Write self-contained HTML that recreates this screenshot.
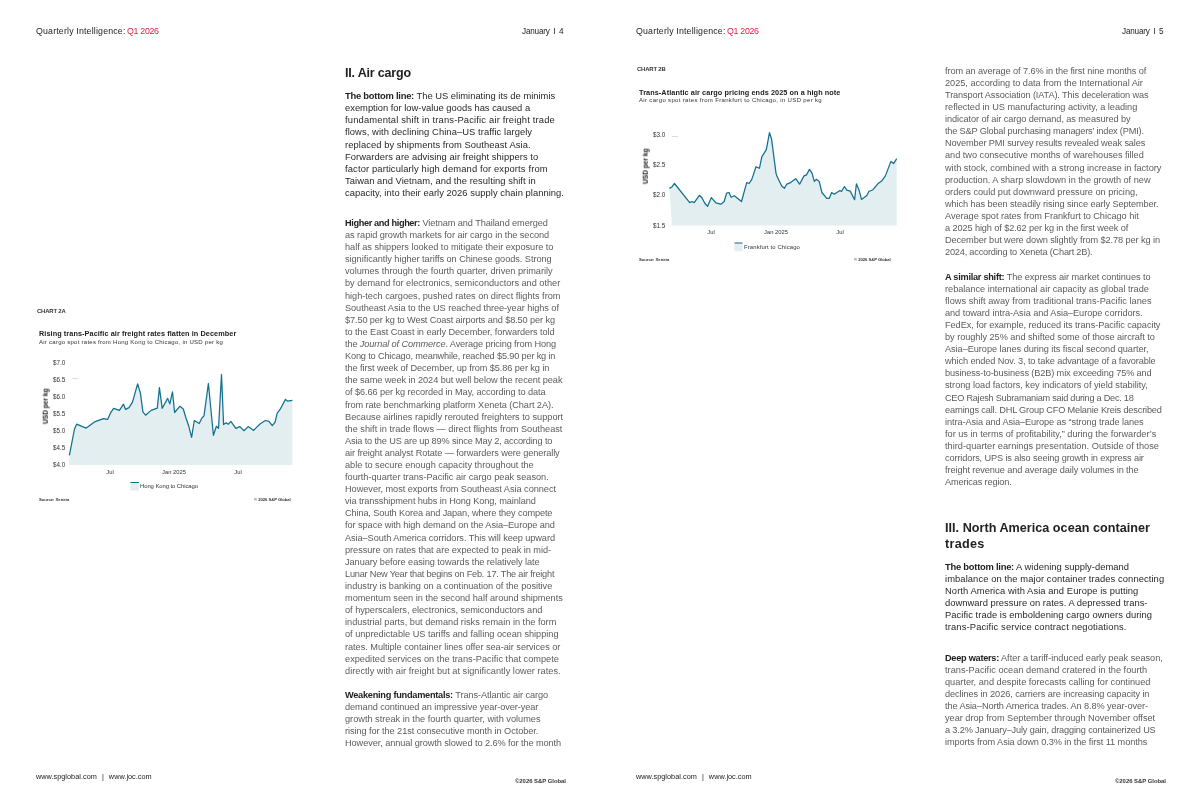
<!DOCTYPE html>
<html><head><meta charset="utf-8"><title>Quarterly Intelligence Q1 2026</title>
<style>
html,body{margin:0;padding:0;background:#fff;}
body{width:1200px;height:797px;position:relative;overflow:hidden;font-family:"Liberation Sans",sans-serif;}
.l{position:absolute;white-space:nowrap;line-height:1;will-change:transform;}
.l b{font-weight:700;}
.ch{position:absolute;left:0;top:0;}
</style></head><body>
<div class="l" style="top:27.00px;font-size:8.8px;color:#222;letter-spacing:0.171px;left:36.40px;">Quarterly Intelligence:</div>
<div class="l" style="top:27.00px;font-size:8.8px;color:#e31940;letter-spacing:-0.292px;left:127.30px;">Q1 2026</div>
<div class="l" style="top:28.01px;font-size:8.2px;color:#222;letter-spacing:-0.206px;left:522.00px;">January</div>
<div style="position:absolute;left:554.1px;top:28.1px;width:0.75px;height:6.2px;background:#555"></div><div class="l" style="top:28.01px;font-size:8.2px;color:#222;left:558.90px;">4</div>
<div class="l" style="top:773.01px;font-size:7.3px;color:#1a1a1a;letter-spacing:0.024px;left:36.20px;">www.spglobal.com <span style="margin:0 3px">|</span> www.joc.com</div>
<div class="l" style="top:779.01px;font-size:5.9px;color:#333;font-weight:700;letter-spacing:-0.004px;left:515.00px;">©2026 S&amp;P Global</div>
<div class="l" style="top:27.00px;font-size:8.8px;color:#222;letter-spacing:0.171px;left:636.40px;">Quarterly Intelligence:</div>
<div class="l" style="top:27.00px;font-size:8.8px;color:#e31940;letter-spacing:-0.292px;left:727.30px;">Q1 2026</div>
<div class="l" style="top:28.01px;font-size:8.2px;color:#222;letter-spacing:-0.206px;left:1122.00px;">January</div>
<div style="position:absolute;left:1154.1px;top:28.1px;width:0.75px;height:6.2px;background:#555"></div><div class="l" style="top:28.01px;font-size:8.2px;color:#222;left:1158.90px;">5</div>
<div class="l" style="top:773.01px;font-size:7.3px;color:#1a1a1a;letter-spacing:0.024px;left:636.20px;">www.spglobal.com <span style="margin:0 3px">|</span> www.joc.com</div>
<div class="l" style="top:779.01px;font-size:5.9px;color:#333;font-weight:700;letter-spacing:-0.004px;left:1115.00px;">©2026 S&amp;P Global</div>
<div class="l" style="top:67.00px;font-size:12.5px;color:#222;font-weight:700;letter-spacing:-0.186px;left:344.50px;">II. Air cargo</div>
<div class="l" style="top:91.01px;font-size:9.4px;color:#282828;letter-spacing:0.005px;left:344.60px;"><b style="color:#222;letter-spacing:-0.245px">The bottom line:</b> The US eliminating its de minimis</div>
<div class="l" style="top:103.01px;font-size:9.4px;color:#282828;letter-spacing:-0.010px;left:344.60px;">exemption for low-value goods has caused a</div>
<div class="l" style="top:115.01px;font-size:9.4px;color:#282828;letter-spacing:0.169px;left:344.60px;">fundamental shift in trans-Pacific air freight trade</div>
<div class="l" style="top:127.01px;font-size:9.4px;color:#282828;letter-spacing:0.073px;left:344.60px;">flows, with declining China–US traffic largely</div>
<div class="l" style="top:140.01px;font-size:9.4px;color:#282828;letter-spacing:0.064px;left:344.60px;">replaced by shipments from Southeast Asia.</div>
<div class="l" style="top:152.01px;font-size:9.4px;color:#282828;letter-spacing:0.055px;left:344.60px;">Forwarders are advising air freight shippers to</div>
<div class="l" style="top:164.01px;font-size:9.4px;color:#282828;letter-spacing:0.130px;left:344.60px;">factor particularly high demand for exports from</div>
<div class="l" style="top:176.01px;font-size:9.4px;color:#282828;letter-spacing:0.048px;left:344.60px;">Taiwan and Vietnam, and the resulting shift in</div>
<div class="l" style="top:188.00px;font-size:9.4px;color:#282828;letter-spacing:0.044px;left:344.60px;">capacity, into their early 2026 supply chain planning.</div>
<div class="l" style="top:219.01px;font-size:9.2px;color:#5c5c5c;letter-spacing:-0.094px;left:344.60px;"><b style="color:#222;letter-spacing:-0.37px">Higher and higher:</b> Vietnam and Thailand emerged</div>
<div class="l" style="top:231.01px;font-size:9.2px;color:#5c5c5c;letter-spacing:-0.053px;left:344.60px;">as rapid growth markets for air cargo in the second</div>
<div class="l" style="top:243.00px;font-size:9.2px;color:#5c5c5c;letter-spacing:-0.028px;left:344.60px;">half as shippers looked to mitigate their exposure to</div>
<div class="l" style="top:255.01px;font-size:9.2px;color:#5c5c5c;letter-spacing:-0.050px;left:344.60px;">significantly higher tariffs on Chinese goods. Strong</div>
<div class="l" style="top:267.00px;font-size:9.2px;color:#5c5c5c;letter-spacing:-0.003px;left:344.60px;">volumes through the fourth quarter, driven primarily</div>
<div class="l" style="top:279.01px;font-size:9.2px;color:#5c5c5c;letter-spacing:-0.016px;left:344.60px;">by demand for electronics, semiconductors and other</div>
<div class="l" style="top:292.01px;font-size:9.2px;color:#5c5c5c;letter-spacing:-0.021px;left:344.60px;">high-tech cargoes, pushed rates on direct flights from</div>
<div class="l" style="top:304.00px;font-size:9.2px;color:#5c5c5c;letter-spacing:-0.061px;left:344.60px;">Southeast Asia to the US reached three-year highs of</div>
<div class="l" style="top:316.01px;font-size:9.2px;color:#5c5c5c;letter-spacing:-0.115px;left:344.60px;">$7.50 per kg to West Coast airports and $8.50 per kg</div>
<div class="l" style="top:328.00px;font-size:9.2px;color:#5c5c5c;letter-spacing:-0.064px;left:344.60px;">to the East Coast in early December, forwarders told</div>
<div class="l" style="top:340.01px;font-size:9.2px;color:#5c5c5c;letter-spacing:-0.119px;left:344.60px;">the <i>Journal of Commerce</i>. Average pricing from Hong</div>
<div class="l" style="top:352.01px;font-size:9.2px;color:#5c5c5c;letter-spacing:-0.163px;left:344.60px;">Kong to Chicago, meanwhile, reached $5.90 per kg in</div>
<div class="l" style="top:364.00px;font-size:9.2px;color:#5c5c5c;letter-spacing:-0.078px;left:344.60px;">the first week of December, up from $5.86 per kg in</div>
<div class="l" style="top:376.01px;font-size:9.2px;color:#5c5c5c;letter-spacing:-0.062px;left:344.60px;">the same week in 2024 but well below the recent peak</div>
<div class="l" style="top:388.00px;font-size:9.2px;color:#5c5c5c;letter-spacing:-0.083px;left:344.60px;">of $6.66 per kg recorded in May, according to data</div>
<div class="l" style="top:401.01px;font-size:9.2px;color:#5c5c5c;letter-spacing:-0.070px;left:344.60px;">from rate benchmarking platform Xeneta (Chart 2A).</div>
<div class="l" style="top:413.01px;font-size:9.2px;color:#5c5c5c;letter-spacing:0.001px;left:344.60px;">Because airlines rapidly rerouted freighters to support</div>
<div class="l" style="top:425.00px;font-size:9.2px;color:#5c5c5c;letter-spacing:0.007px;left:344.60px;">the shift in trade flows — direct flights from Southeast</div>
<div class="l" style="top:437.01px;font-size:9.2px;color:#5c5c5c;letter-spacing:-0.151px;left:344.60px;">Asia to the US are up 89% since May 2, according to</div>
<div class="l" style="top:449.00px;font-size:9.2px;color:#5c5c5c;letter-spacing:-0.092px;left:344.60px;">air freight analyst Rotate — forwarders were generally</div>
<div class="l" style="top:461.01px;font-size:9.2px;color:#5c5c5c;letter-spacing:-0.007px;left:344.60px;">able to secure enough capacity throughout the</div>
<div class="l" style="top:473.01px;font-size:9.2px;color:#5c5c5c;letter-spacing:-0.011px;left:344.60px;">fourth-quarter trans-Pacific air cargo peak season.</div>
<div class="l" style="top:485.00px;font-size:9.2px;color:#5c5c5c;letter-spacing:-0.040px;left:344.60px;">However, most exports from Southeast Asia connect</div>
<div class="l" style="top:497.01px;font-size:9.2px;color:#5c5c5c;letter-spacing:-0.098px;left:344.60px;">via transshipment hubs in Hong Kong, mainland</div>
<div class="l" style="top:509.00px;font-size:9.2px;color:#5c5c5c;letter-spacing:-0.129px;left:344.60px;">China, South Korea and Japan, where they compete</div>
<div class="l" style="top:521.01px;font-size:9.2px;color:#5c5c5c;letter-spacing:-0.063px;left:344.60px;">for space with high demand on the Asia–Europe and</div>
<div class="l" style="top:534.01px;font-size:9.2px;color:#5c5c5c;letter-spacing:-0.076px;left:344.60px;">Asia–South America corridors. This will keep upward</div>
<div class="l" style="top:546.00px;font-size:9.2px;color:#5c5c5c;letter-spacing:-0.036px;left:344.60px;">pressure on rates that are expected to peak in mid-</div>
<div class="l" style="top:558.01px;font-size:9.2px;color:#5c5c5c;letter-spacing:-0.050px;left:344.60px;">January before easing towards the relatively late</div>
<div class="l" style="top:570.00px;font-size:9.2px;color:#5c5c5c;letter-spacing:-0.218px;left:344.60px;">Lunar New Year that begins on Feb. 17. The air freight</div>
<div class="l" style="top:582.01px;font-size:9.2px;color:#5c5c5c;letter-spacing:-0.011px;left:344.60px;">industry is banking on a continuation of the positive</div>
<div class="l" style="top:594.01px;font-size:9.2px;color:#5c5c5c;letter-spacing:-0.016px;left:344.60px;">momentum seen in the second half around shipments</div>
<div class="l" style="top:606.00px;font-size:9.2px;color:#5c5c5c;letter-spacing:-0.028px;left:344.60px;">of hyperscalers, electronics, semiconductors and</div>
<div class="l" style="top:618.01px;font-size:9.2px;color:#5c5c5c;letter-spacing:-0.002px;left:344.60px;">industrial parts, but demand risks remain in the form</div>
<div class="l" style="top:630.00px;font-size:9.2px;color:#5c5c5c;letter-spacing:-0.016px;left:344.60px;">of unpredictable US tariffs and falling ocean shipping</div>
<div class="l" style="top:643.01px;font-size:9.2px;color:#5c5c5c;letter-spacing:-0.035px;left:344.60px;">rates. Multiple container lines offer sea-air services or</div>
<div class="l" style="top:655.01px;font-size:9.2px;color:#5c5c5c;letter-spacing:0.018px;left:344.60px;">expedited services on the trans-Pacific that compete</div>
<div class="l" style="top:667.00px;font-size:9.2px;color:#5c5c5c;letter-spacing:0.019px;left:344.60px;">directly with air freight but at significantly lower rates.</div>
<div class="l" style="top:691.00px;font-size:9.2px;color:#5c5c5c;letter-spacing:-0.078px;left:344.60px;"><b style="color:#222;letter-spacing:-0.25px">Weakening fundamentals:</b> Trans-Atlantic air cargo</div>
<div class="l" style="top:703.00px;font-size:9.2px;color:#5c5c5c;letter-spacing:-0.085px;left:344.60px;">demand continued an impressive year-over-year</div>
<div class="l" style="top:715.01px;font-size:9.2px;color:#5c5c5c;letter-spacing:-0.002px;left:344.60px;">growth streak in the fourth quarter, with volumes</div>
<div class="l" style="top:727.01px;font-size:9.2px;color:#5c5c5c;letter-spacing:-0.068px;left:344.60px;">rising for the 21st consecutive month in October.</div>
<div class="l" style="top:739.01px;font-size:9.2px;color:#5c5c5c;letter-spacing:-0.079px;left:344.60px;">However, annual growth slowed to 2.6% for the month</div>
<div class="l" style="top:67.00px;font-size:9.2px;color:#5c5c5c;letter-spacing:-0.090px;left:944.60px;">from an average of 7.6% in the first nine months of</div>
<div class="l" style="top:79.00px;font-size:9.2px;color:#5c5c5c;letter-spacing:-0.016px;left:944.60px;">2025, according to data from the International Air</div>
<div class="l" style="top:91.01px;font-size:9.2px;color:#5c5c5c;letter-spacing:-0.120px;left:944.60px;">Transport Association (IATA). This deceleration was</div>
<div class="l" style="top:103.01px;font-size:9.2px;color:#5c5c5c;letter-spacing:-0.022px;left:944.60px;">reflected in US manufacturing activity, a leading</div>
<div class="l" style="top:115.01px;font-size:9.2px;color:#5c5c5c;letter-spacing:-0.090px;left:944.60px;">indicator of air cargo demand, as measured by</div>
<div class="l" style="top:127.01px;font-size:9.2px;color:#5c5c5c;letter-spacing:-0.178px;left:944.60px;">the S&amp;P Global purchasing managers’ index (PMI).</div>
<div class="l" style="top:139.01px;font-size:9.2px;color:#5c5c5c;letter-spacing:-0.130px;left:944.60px;">November PMI survey results revealed weak sales</div>
<div class="l" style="top:151.01px;font-size:9.2px;color:#5c5c5c;letter-spacing:-0.019px;left:944.60px;">and two consecutive months of warehouses filled</div>
<div class="l" style="top:164.01px;font-size:9.2px;color:#5c5c5c;letter-spacing:-0.012px;left:944.60px;">with stock, combined with a strong increase in factory</div>
<div class="l" style="top:176.01px;font-size:9.2px;color:#5c5c5c;letter-spacing:-0.017px;left:944.60px;">production. A sharp slowdown in the growth of new</div>
<div class="l" style="top:188.01px;font-size:9.2px;color:#5c5c5c;letter-spacing:-0.021px;left:944.60px;">orders could put downward pressure on pricing,</div>
<div class="l" style="top:200.01px;font-size:9.2px;color:#5c5c5c;letter-spacing:-0.086px;left:944.60px;">which has been steadily rising since early September.</div>
<div class="l" style="top:212.01px;font-size:9.2px;color:#5c5c5c;letter-spacing:-0.046px;left:944.60px;">Average spot rates from Frankfurt to Chicago hit</div>
<div class="l" style="top:224.01px;font-size:9.2px;color:#5c5c5c;letter-spacing:-0.110px;left:944.60px;">a 2025 high of $2.62 per kg in the first week of</div>
<div class="l" style="top:236.01px;font-size:9.2px;color:#5c5c5c;letter-spacing:-0.090px;left:944.60px;">December but were down slightly from $2.78 per kg in</div>
<div class="l" style="top:248.01px;font-size:9.2px;color:#5c5c5c;letter-spacing:-0.198px;left:944.60px;">2024, according to Xeneta (Chart 2B).</div>
<div class="l" style="top:273.01px;font-size:9.2px;color:#5c5c5c;letter-spacing:-0.063px;left:944.60px;"><b style="color:#222;letter-spacing:-0.26px">A similar shift:</b> The express air market continues to</div>
<div class="l" style="top:285.00px;font-size:9.2px;color:#5c5c5c;letter-spacing:-0.019px;left:944.60px;">rebalance international air capacity as global trade</div>
<div class="l" style="top:297.01px;font-size:9.2px;color:#5c5c5c;letter-spacing:0.025px;left:944.60px;">flows shift away from traditional trans-Pacific lanes</div>
<div class="l" style="top:309.00px;font-size:9.2px;color:#5c5c5c;letter-spacing:-0.054px;left:944.60px;">and toward intra-Asia and Asia–Europe corridors.</div>
<div class="l" style="top:321.01px;font-size:9.2px;color:#5c5c5c;letter-spacing:-0.068px;left:944.60px;">FedEx, for example, reduced its trans-Pacific capacity</div>
<div class="l" style="top:333.01px;font-size:9.2px;color:#5c5c5c;letter-spacing:-0.039px;left:944.60px;">by roughly 25% and shifted some of those aircraft to</div>
<div class="l" style="top:345.00px;font-size:9.2px;color:#5c5c5c;letter-spacing:-0.057px;left:944.60px;">Asia–Europe lanes during its fiscal second quarter,</div>
<div class="l" style="top:357.01px;font-size:9.2px;color:#5c5c5c;letter-spacing:-0.111px;left:944.60px;">which ended Nov. 3, to take advantage of a favorable</div>
<div class="l" style="top:369.00px;font-size:9.2px;color:#5c5c5c;letter-spacing:-0.122px;left:944.60px;">business-to-business (B2B) mix exceeding 75% and</div>
<div class="l" style="top:381.01px;font-size:9.2px;color:#5c5c5c;letter-spacing:-0.016px;left:944.60px;">strong load factors, key indicators of yield stability,</div>
<div class="l" style="top:394.01px;font-size:9.2px;color:#5c5c5c;letter-spacing:-0.265px;left:944.60px;">CEO Rajesh Subramaniam said during a Dec. 18</div>
<div class="l" style="top:406.00px;font-size:9.2px;color:#5c5c5c;letter-spacing:-0.166px;left:944.60px;">earnings call. DHL Group CFO Melanie Kreis described</div>
<div class="l" style="top:418.01px;font-size:9.2px;color:#5c5c5c;letter-spacing:-0.085px;left:944.60px;">intra-Asia and Asia–Europe as “strong trade lanes</div>
<div class="l" style="top:430.00px;font-size:9.2px;color:#5c5c5c;letter-spacing:-0.002px;left:944.60px;">for us in terms of profitability,” during the forwarder’s</div>
<div class="l" style="top:442.01px;font-size:9.2px;color:#5c5c5c;letter-spacing:0.018px;left:944.60px;">third-quarter earnings presentation. Outside of those</div>
<div class="l" style="top:454.01px;font-size:9.2px;color:#5c5c5c;letter-spacing:-0.127px;left:944.60px;">corridors, UPS is also seeing growth in express air</div>
<div class="l" style="top:466.00px;font-size:9.2px;color:#5c5c5c;letter-spacing:-0.095px;left:944.60px;">freight revenue and average daily volumes in the</div>
<div class="l" style="top:478.01px;font-size:9.2px;color:#5c5c5c;letter-spacing:-0.139px;left:944.60px;">Americas region.</div>
<div class="l" style="top:522.02px;font-size:12.6px;color:#222;font-weight:700;letter-spacing:0.030px;left:944.50px;">III. North America ocean container</div>
<div class="l" style="top:538.01px;font-size:12.6px;color:#222;font-weight:700;letter-spacing:0.281px;left:944.50px;">trades</div>
<div class="l" style="top:562.01px;font-size:9.4px;color:#282828;letter-spacing:0.035px;left:944.60px;"><b style="color:#222;letter-spacing:-0.245px">The bottom line:</b> A widening supply-demand</div>
<div class="l" style="top:574.01px;font-size:9.4px;color:#282828;letter-spacing:0.079px;left:944.60px;">imbalance on the major container trades connecting</div>
<div class="l" style="top:586.01px;font-size:9.4px;color:#282828;letter-spacing:0.071px;left:944.60px;">North America with Asia and Europe is putting</div>
<div class="l" style="top:598.01px;font-size:9.4px;color:#282828;letter-spacing:0.018px;left:944.60px;">downward pressure on rates. A depressed trans-</div>
<div class="l" style="top:610.01px;font-size:9.4px;color:#282828;letter-spacing:0.046px;left:944.60px;">Pacific trade is emboldening cargo owners during</div>
<div class="l" style="top:622.01px;font-size:9.4px;color:#282828;letter-spacing:0.136px;left:944.60px;">trans-Pacific service contract negotiations.</div>
<div class="l" style="top:654.01px;font-size:9.2px;color:#5c5c5c;letter-spacing:-0.010px;left:944.60px;"><b style="color:#222;letter-spacing:-0.27px">Deep waters:</b> After a tariff-induced early peak season,</div>
<div class="l" style="top:666.00px;font-size:9.2px;color:#5c5c5c;letter-spacing:0.020px;left:944.60px;">trans-Pacific ocean demand cratered in the fourth</div>
<div class="l" style="top:678.01px;font-size:9.2px;color:#5c5c5c;letter-spacing:0.002px;left:944.60px;">quarter, and despite forecasts calling for continued</div>
<div class="l" style="top:690.00px;font-size:9.2px;color:#5c5c5c;letter-spacing:-0.075px;left:944.60px;">declines in 2026, carriers are increasing capacity in</div>
<div class="l" style="top:702.01px;font-size:9.2px;color:#5c5c5c;letter-spacing:-0.101px;left:944.60px;">the Asia–North America trades. An 8.8% year-over-</div>
<div class="l" style="top:714.01px;font-size:9.2px;color:#5c5c5c;letter-spacing:-0.013px;left:944.60px;">year drop from September through November offset</div>
<div class="l" style="top:726.00px;font-size:9.2px;color:#5c5c5c;letter-spacing:-0.157px;left:944.60px;">a 3.2% January–July gain, dragging containerized US</div>
<div class="l" style="top:738.01px;font-size:9.2px;color:#5c5c5c;letter-spacing:-0.078px;left:944.60px;">imports from Asia down 0.3% in the first 11 months</div>
<svg class="ch" width="1200" height="797" viewBox="0 0 1200 797"><path d="M69.4,455.3 L74.5,429.0 L76.6,424.2 L86.2,428.1 L94.5,421.9 L103.5,418.7 L107.6,419.4 L110.4,413.2 L113.6,408.3 L119.4,410.4 L123.5,404.2 L125.6,409.4 L129.0,407.6 L132.5,402.1 L137.6,383.8 L140.4,393.1 L142.9,411.8 L145.6,415.2 L151.1,410.4 L157.3,408.1 L159.4,387.6 L162.2,408.3 L167.7,398.4 L169.8,403.9 L172.5,391.8 L174.6,412.5 L179.8,406.3 L183.3,409.0 L186.0,418.0 L188.8,426.3 L191.6,437.3 L194.3,420.5 L199.2,423.5 L201.9,418.0 L204.0,415.9 L208.4,383.5 L213.4,435.3 L216.4,426.3 L218.5,428.4 L221.5,374.5 L223.6,424.6 L226.1,422.8 L228.2,424.2 L230.9,421.4 L235.8,428.4 L239.9,426.6 L244.0,430.7 L248.2,426.6 L253.7,430.4 L256.5,427.4 L260.6,423.5 L265.4,420.5 L268.9,421.4 L272.3,425.6 L275.1,422.1 L277.2,413.2 L279.9,409.7 L285.5,399.4 L287.5,401.1 L292.4,400.3 L292.4,465 L69.4,465 Z" fill="#e2eef0"/><path d="M669.4,188.4 L671.7,187.2 L674.5,183.5 L689.7,202.6 L692.0,201.5 L694.2,202.6 L699.4,195.3 L702.1,198.0 L704.9,203.5 L707.6,206.3 L711.4,197.6 L715.9,202.8 L720.8,204.2 L724.2,201.5 L726.6,193.2 L729.0,192.5 L731.1,197.3 L734.3,195.7 L741.5,201.5 L746.7,182.6 L749.1,183.5 L751.8,179.4 L756.0,166.7 L759.4,168.3 L761.9,156.6 L766.3,149.7 L769.5,132.7 L771.6,139.3 L776.0,173.2 L777.1,176.6 L779.1,180.7 L781.9,186.2 L784.4,188.3 L786.7,184.2 L790.2,182.8 L795.7,178.7 L799.6,184.2 L804.0,175.9 L806.5,174.9 L809.5,169.3 L812.0,173.1 L814.3,181.4 L816.4,179.3 L819.2,181.4 L821.9,192.5 L826.8,198.4 L829.2,198.4 L831.6,192.5 L834.3,194.2 L839.9,190.4 L841.5,191.5 L844.4,186.5 L846.8,190.1 L850.2,191.1 L854.6,199.8 L856.4,183.8 L858.9,189.7 L861.5,199.4 L866.8,195.6 L868.8,191.5 L873.0,189.7 L877.8,183.8 L882.0,180.7 L885.4,175.9 L890.9,161.4 L893.7,163.5 L896.7,158.6 L896.7,225.6 L672,225.6 Z" fill="#e2eef0"/><path d="M69.4,455.3 L74.5,429.0 L76.6,424.2 L86.2,428.1 L94.5,421.9 L103.5,418.7 L107.6,419.4 L110.4,413.2 L113.6,408.3 L119.4,410.4 L123.5,404.2 L125.6,409.4 L129.0,407.6 L132.5,402.1 L137.6,383.8 L140.4,393.1 L142.9,411.8 L145.6,415.2 L151.1,410.4 L157.3,408.1 L159.4,387.6 L162.2,408.3 L167.7,398.4 L169.8,403.9 L172.5,391.8 L174.6,412.5 L179.8,406.3 L183.3,409.0 L186.0,418.0 L188.8,426.3 L191.6,437.3 L194.3,420.5 L199.2,423.5 L201.9,418.0 L204.0,415.9 L208.4,383.5 L213.4,435.3 L216.4,426.3 L218.5,428.4 L221.5,374.5 L223.6,424.6 L226.1,422.8 L228.2,424.2 L230.9,421.4 L235.8,428.4 L239.9,426.6 L244.0,430.7 L248.2,426.6 L253.7,430.4 L256.5,427.4 L260.6,423.5 L265.4,420.5 L268.9,421.4 L272.3,425.6 L275.1,422.1 L277.2,413.2 L279.9,409.7 L285.5,399.4 L287.5,401.1 L292.4,400.3" fill="none" stroke="#13708f" stroke-width="1.25" stroke-linejoin="round"/><path d="M669.4,188.4 L671.7,187.2 L674.5,183.5 L689.7,202.6 L692.0,201.5 L694.2,202.6 L699.4,195.3 L702.1,198.0 L704.9,203.5 L707.6,206.3 L711.4,197.6 L715.9,202.8 L720.8,204.2 L724.2,201.5 L726.6,193.2 L729.0,192.5 L731.1,197.3 L734.3,195.7 L741.5,201.5 L746.7,182.6 L749.1,183.5 L751.8,179.4 L756.0,166.7 L759.4,168.3 L761.9,156.6 L766.3,149.7 L769.5,132.7 L771.6,139.3 L776.0,173.2 L777.1,176.6 L779.1,180.7 L781.9,186.2 L784.4,188.3 L786.7,184.2 L790.2,182.8 L795.7,178.7 L799.6,184.2 L804.0,175.9 L806.5,174.9 L809.5,169.3 L812.0,173.1 L814.3,181.4 L816.4,179.3 L819.2,181.4 L821.9,192.5 L826.8,198.4 L829.2,198.4 L831.6,192.5 L834.3,194.2 L839.9,190.4 L841.5,191.5 L844.4,186.5 L846.8,190.1 L850.2,191.1 L854.6,199.8 L856.4,183.8 L858.9,189.7 L861.5,199.4 L866.8,195.6 L868.8,191.5 L873.0,189.7 L877.8,183.8 L882.0,180.7 L885.4,175.9 L890.9,161.4 L893.7,163.5 L896.7,158.6" fill="none" stroke="#13708f" stroke-width="1.25" stroke-linejoin="round"/><rect x="130.4" y="482.5" width="8.5" height="8" fill="#e2eef0"/><rect x="130.4" y="482" width="8.5" height="1" fill="#13708f"/><rect x="734.5" y="242.8" width="8" height="8.5" fill="#e2eef0"/><rect x="734.5" y="242.5" width="8" height="1" fill="#13708f"/></svg>
<div class="l" style="top:309.02px;font-size:5.9px;color:#333;font-weight:700;letter-spacing:-0.148px;left:36.50px;">CHART 2A</div>
<div class="l" style="top:330.01px;font-size:7.3px;color:#222;font-weight:700;letter-spacing:0.074px;left:39.30px;">Rising trans-Pacific air freight rates flatten in December</div>
<div class="l" style="top:339.00px;font-size:6.0px;color:#333;letter-spacing:0.257px;left:39.30px;">Air cargo spot rates from Hong Kong to Chicago, in USD per kg</div>
<div class="l" style="top:360.01px;font-size:6.3px;color:#333;right:1135.00px;">$7.0</div>
<div class="l" style="top:377.01px;font-size:6.3px;color:#333;right:1135.00px;">$6.5</div>
<div class="l" style="top:394.01px;font-size:6.3px;color:#333;right:1135.00px;">$6.0</div>
<div class="l" style="top:411.01px;font-size:6.3px;color:#333;right:1135.00px;">$5.5</div>
<div class="l" style="top:428.01px;font-size:6.3px;color:#333;right:1135.00px;">$5.0</div>
<div class="l" style="top:445.01px;font-size:6.3px;color:#333;right:1135.00px;">$4.5</div>
<div class="l" style="top:462.01px;font-size:6.3px;color:#333;right:1135.00px;">$4.0</div>
<div class="l" style="left:79.7px;width:60px;text-align:center;top:469.8px;font-size:5.8px;color:#333">Jul</div>
<div class="l" style="left:144.0px;width:60px;text-align:center;top:469.8px;font-size:5.8px;color:#333">Jan 2025</div>
<div class="l" style="left:208.0px;width:60px;text-align:center;top:469.8px;font-size:5.8px;color:#333">Jul</div>
<div class="l" style="top:484.00px;font-size:5.9px;color:#333;letter-spacing:-0.064px;left:140.00px;">Hong Kong to Chicago</div>
<div style="position:absolute;left:72px;top:378px;width:5.5px;height:0.8px;background:#ddd"></div><div class="l" style="top:498.01px;font-size:4.2px;color:#333;font-weight:700;letter-spacing:-0.021px;left:38.60px;">Source: Xeneta</div>
<div class="l" style="top:498.01px;font-size:4.2px;color:#333;font-weight:700;letter-spacing:-0.045px;left:254.30px;">© 2026 S&amp;P Global</div>
<div class="l" style="left:20.6px;width:50px;text-align:center;top:403.2px;font-size:6.6px;font-weight:700;color:#111;transform:rotate(-90deg)">USD per kg</div>
<div class="l" style="top:67.00px;font-size:5.9px;color:#333;font-weight:700;letter-spacing:-0.148px;left:636.50px;">CHART 2B</div>
<div class="l" style="top:89.01px;font-size:7.3px;color:#222;font-weight:700;letter-spacing:0.078px;left:639.30px;">Trans-Atlantic air cargo pricing ends 2025 on a high note</div>
<div class="l" style="top:97.01px;font-size:6.0px;color:#333;letter-spacing:0.338px;left:639.30px;">Air cargo spot rates from Frankfurt to Chicago, in USD per kg</div>
<div class="l" style="top:132.00px;font-size:6.3px;color:#333;right:535.00px;">$3.0</div>
<div class="l" style="top:162.01px;font-size:6.3px;color:#333;right:535.00px;">$2.5</div>
<div class="l" style="top:192.00px;font-size:6.3px;color:#333;right:535.00px;">$2.0</div>
<div class="l" style="top:223.00px;font-size:6.3px;color:#333;right:535.00px;">$1.5</div>
<div class="l" style="left:681.0px;width:60px;text-align:center;top:230.4px;font-size:5.8px;color:#333">Jul</div>
<div class="l" style="left:746.2px;width:60px;text-align:center;top:230.4px;font-size:5.8px;color:#333">Jan 2025</div>
<div class="l" style="left:810.0px;width:60px;text-align:center;top:230.4px;font-size:5.8px;color:#333">Jul</div>
<div class="l" style="top:245.01px;font-size:5.9px;color:#333;letter-spacing:0.131px;left:744.00px;">Frankfurt to Chicago</div>
<div style="position:absolute;left:672px;top:136.3px;width:5.5px;height:0.8px;background:#ddd"></div><div class="l" style="top:258.02px;font-size:4.2px;color:#333;font-weight:700;letter-spacing:-0.021px;left:638.60px;">Source: Xeneta</div>
<div class="l" style="top:258.02px;font-size:4.2px;color:#333;font-weight:700;letter-spacing:-0.045px;left:854.30px;">© 2026 S&amp;P Global</div>
<div class="l" style="left:620.6px;width:50px;text-align:center;top:163.3px;font-size:6.6px;font-weight:700;color:#111;transform:rotate(-90deg)">USD per kg</div>
</body></html>
